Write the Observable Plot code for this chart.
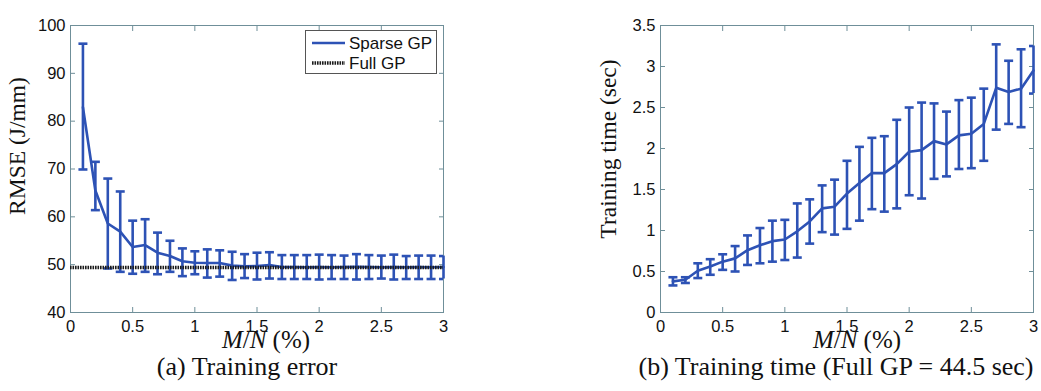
<!DOCTYPE html>
<html><head><meta charset="utf-8">
<script src="https://cdn.jsdelivr.net/npm/d3@7"></script>
<script src="https://cdn.jsdelivr.net/npm/@observablehq/plot@0.6"></script>
<style>
body{margin:0;background:#fff;}
#fig{position:relative;width:1041px;height:391px;overflow:hidden;background:#fff;}
.panel{position:absolute;top:0;}
.lab{position:absolute;font-family:"Liberation Serif","Times New Roman",serif;color:#111;white-space:nowrap;line-height:1;}
.legend{position:absolute;border:1px solid #555;background:#fff;box-sizing:border-box;}
</style></head><body><div id="fig"></div>
<script>
// M/N (%) sample points
const ratio = [0.1,0.2,0.3,0.4,0.5,0.6,0.7,0.8,0.9,1.0,1.1,1.2,1.3,1.4,1.5,1.6,1.7,1.8,1.9,2.0,2.1,2.2,2.3,2.4,2.5,2.6,2.7,2.8,2.9,3.0];
// (a) Training error, RMSE (J/mm)
const rmseMean  = [82.9,65.5,58.6,56.9,53.7,54.1,52.5,51.8,50.7,50.4,50.35,50.35,49.8,49.65,49.7,49.9,49.5,49.5,49.45,49.5,49.45,49.5,49.55,49.5,49.45,49.5,49.45,49.5,49.45,49.5];
const rmseUpper = [96.2,71.5,68.0,65.3,59.2,59.5,56.7,55.0,53.4,52.8,53.2,53.0,52.7,52.2,52.5,52.6,52.0,52.0,52.0,52.1,52.0,51.9,52.2,52.0,51.9,52.1,51.8,51.9,51.9,51.8];
const rmseLower = [69.9,61.4,49.2,48.5,48.1,48.5,48.0,48.5,47.6,48.0,47.3,47.5,46.8,47.2,46.9,47.1,47.0,47.0,47.0,46.9,47.0,47.0,46.9,47.0,47.1,46.9,47.0,47.0,47.0,47.0];
const fullGP = 49.4;
// (b) Training time (sec)
const timeMean  = [0.38,0.40,0.51,0.56,0.62,0.66,0.76,0.82,0.87,0.89,0.99,1.11,1.27,1.29,1.45,1.58,1.70,1.70,1.81,1.96,1.98,2.09,2.05,2.16,2.18,2.30,2.74,2.69,2.73,2.95];
const timeUpper = [0.43,0.43,0.60,0.65,0.71,0.81,0.94,1.03,1.12,1.13,1.33,1.38,1.55,1.62,1.85,2.02,2.13,2.15,2.35,2.50,2.56,2.55,2.45,2.59,2.62,2.73,3.27,3.07,3.21,3.25];
const timeLower = [0.33,0.36,0.42,0.46,0.52,0.50,0.58,0.60,0.62,0.64,0.67,0.84,0.98,0.95,1.02,1.12,1.26,1.23,1.27,1.43,1.39,1.63,1.66,1.75,1.76,1.85,2.23,2.30,2.26,2.67];
// tick labels
const xTicks = [0,0.5,1,1.5,2,2.5,3];
const rmseTicks = [40,50,60,70,80,90,100];
const timeTicks = [0,0.5,1,1.5,2,2.5,3,3.5];

const blue = "#2d52b5";
const frameColor = "#6f8f99";
const fmt = d3.format("~g");
const capSymbol = {draw(ctx, size){ const w = Math.sqrt(size/Math.PI); ctx.moveTo(-w,0); ctx.lineTo(w,0); }};

function panel({mean, upper, lower, yDomain, yTicks, width, marginLeft, marginRight, extra = []}) {
  const data = ratio.map((r,i) => ({r, m: mean[i], hi: upper[i], lo: lower[i]}));
  return Plot.plot({
    width, height: 340,
    marginTop: 25, marginBottom: 28, marginLeft, marginRight,
    style: {background: "transparent", fontFamily: "'Liberation Sans', Arial, sans-serif", fontSize: "16.5px", color: "#111", overflow: "visible"},
    x: {domain: [0,3], label: null},
    y: {domain: yDomain, label: null},
    marks: [
      Plot.frame({stroke: frameColor}),
      Plot.axisX(xTicks, {anchor: "bottom", tickSize: -5, tickPadding: 13, tickFormat: fmt, stroke: frameColor, fill: "#111", label: null}),
      Plot.axisX(xTicks, {anchor: "top", tickSize: -5, stroke: frameColor, fill: "none", label: null}),
      Plot.axisY(yTicks, {anchor: "left", tickSize: -5, tickPadding: 10, tickFormat: fmt, stroke: frameColor, fill: "#111", label: null}),
      Plot.axisY(yTicks, {anchor: "right", tickSize: -5, stroke: frameColor, fill: "none", label: null}),
      Plot.ruleX(data, {x: "r", y1: "lo", y2: "hi", stroke: blue, strokeWidth: 2.6}),
      Plot.dot(data, {x: "r", y: "hi", symbol: capSymbol, r: 4.5, fill: "none", stroke: blue, strokeWidth: 2.6, clip: true}),
      Plot.dot(data, {x: "r", y: "lo", symbol: capSymbol, r: 4.5, fill: "none", stroke: blue, strokeWidth: 2.6, clip: true}),
      Plot.line(data, {x: "r", y: "m", stroke: blue, strokeWidth: 2.6}),
      ...extra
    ]
  });
}

const fig = document.getElementById("fig");

const left = panel({mean: rmseMean, upper: rmseUpper, lower: rmseLower, yDomain: [40,100], yTicks: rmseTicks,
  width: 460, marginLeft: 70, marginRight: 17,
  extra: [Plot.ruleY([fullGP], {stroke: "#1b1b1b", strokeWidth: 3.5, strokeDasharray: "1.6,0.9"})]});
left.classList.add("panel"); left.style.left = "0px";
fig.appendChild(left);

const right = panel({mean: timeMean, upper: timeUpper, lower: timeLower, yDomain: [0,3.5], yTicks: timeTicks,
  width: 501, marginLeft: 120, marginRight: 8});
right.classList.add("panel"); right.style.left = "540px";
fig.appendChild(right);

function label(html, cx, cy, size, rotate) {
  const d = document.createElement("div");
  d.className = "lab";
  d.innerHTML = html;
  d.style.left = cx + "px"; d.style.top = cy + "px"; d.style.fontSize = size + "px";
  d.style.transform = "translate(-50%,-50%)" + (rotate ? " rotate(-90deg)" : "");
  fig.appendChild(d);
}
label("RMSE (J/mm)", 18, 146, 23.5, true);
label("Training time (sec)", 609, 149, 23.5, true);
label("<i>M</i>/<i>N</i> (%)", 266, 339, 25);
label("<i>M</i>/<i>N</i> (%)", 857, 339, 25);
label("(a) Training error", 247, 367, 26);
label("(b) Training time (Full GP = 44.5 sec)", 836, 367, 26);

// legend
const lg = document.createElement("div");
lg.className = "legend";
lg.style.left = "305px"; lg.style.top = "30px"; lg.style.width = "132px"; lg.style.height = "44px";
lg.innerHTML = `<svg width="130" height="42" style="font-family:'Liberation Sans',Arial,sans-serif;font-size:17px;fill:#111">
<line x1="6" x2="39" y1="12" y2="12" stroke="${blue}" stroke-width="2.6"/>
<text x="43" y="18">Sparse GP</text>
<line x1="6" x2="39" y1="32" y2="32" stroke="#1b1b1b" stroke-width="3.5" stroke-dasharray="1.6,0.9"/>
<text x="43" y="38">Full GP</text>
</svg>`;
fig.appendChild(lg);
</script></body></html>
